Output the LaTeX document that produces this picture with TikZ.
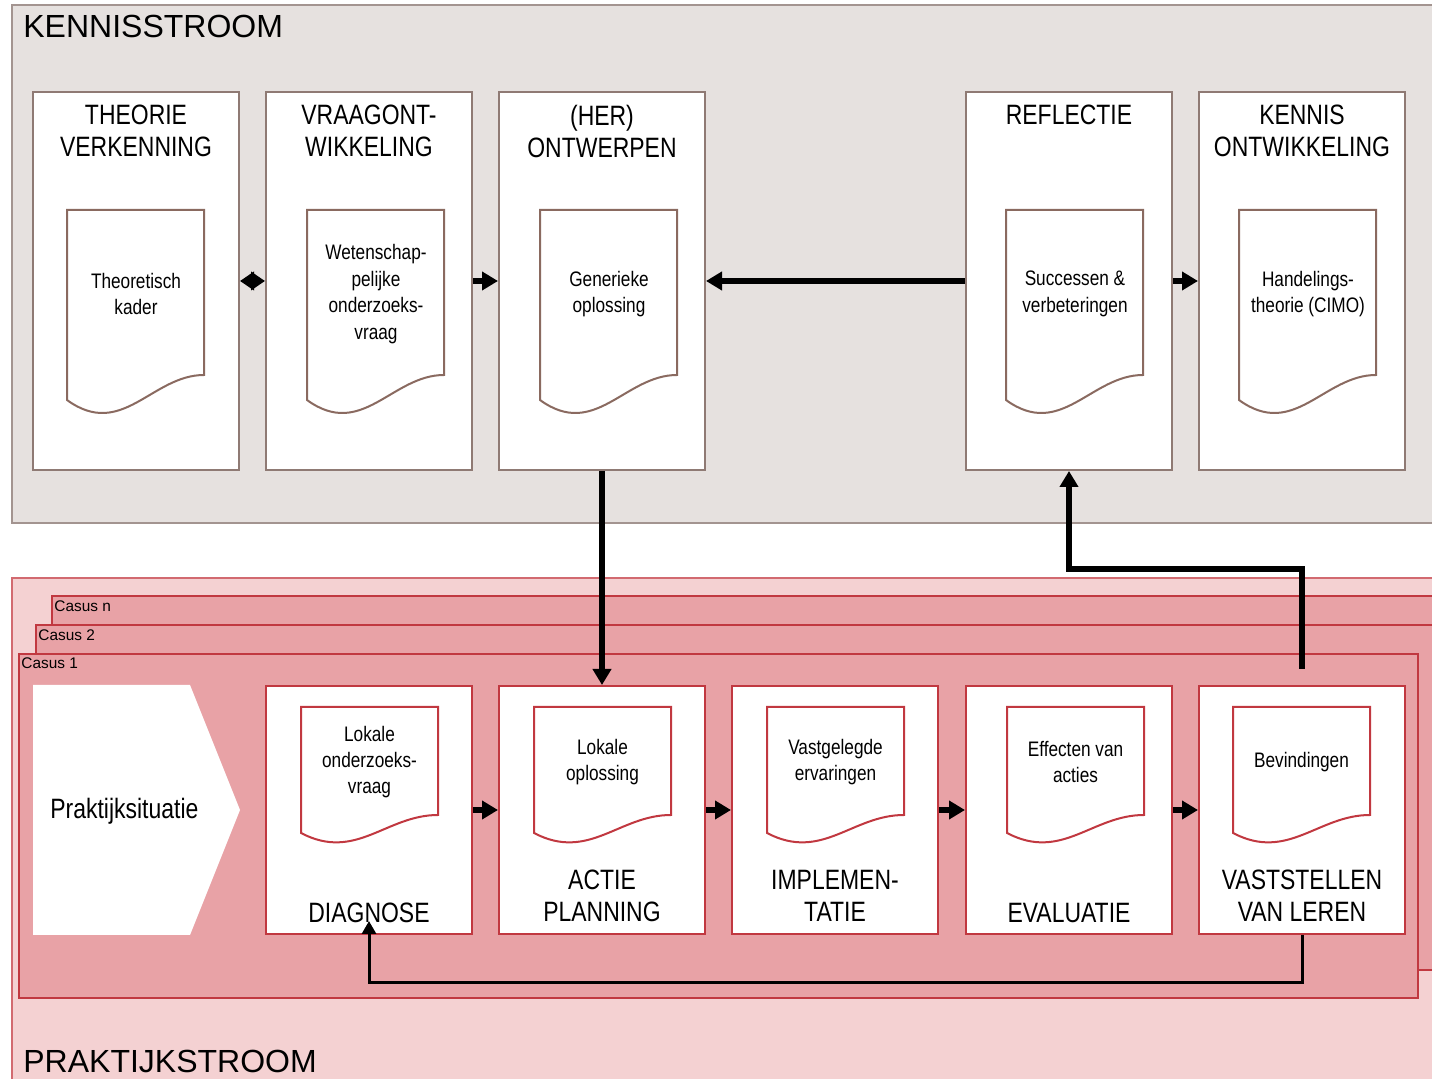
\documentclass[tikz,border=0pt]{standalone}
\usepackage{fontspec}
\setmainfont{Liberation Sans}
\newfontfamily\narrowfont[FakeStretch=0.82]{Liberation Sans}
\usetikzlibrary{arrows.meta}

\definecolor{kennisbg}{HTML}{E6E1DF}
\definecolor{kennisrand}{HTML}{A39490}
\definecolor{kboxrand}{HTML}{8F7A74}
\definecolor{kdocrand}{HTML}{8A6A60}
\definecolor{praktijkbg}{HTML}{F4D1D2}
\definecolor{praktijkrand}{HTML}{D26A70}
\definecolor{casusbg}{HTML}{E8A2A6}
\definecolor{casusrand}{HTML}{C13840}

% document met golvende onderkant: x, top, hoogte, verval, kleur
\newcommand{\docshape}[5]{%
\filldraw[fill=white,draw=#5,line width=1pt] (#1,{#2+#3}) -- (#1,#2) -- ({#1+137},#2)
  -- ({#1+137},{#2+#3-#4}) .. controls ({#1+85},{#2+#3-#4}) and ({#1+55},{#2+#3+1.6*#4}) .. (#1,{#2+#3}) -- cycle;}

\tikzset{
  kbox/.style={draw=kboxrand,fill=white,line width=1pt,inner sep=0pt,minimum width=103pt,minimum height=189pt},
  pbox/.style={draw=casusrand,fill=white,line width=1pt,inner sep=0pt,minimum width=103pt,minimum height=124pt},
  boxtitle/.style={align=center,inner sep=0pt,font=\narrowfont\fontsize{14pt}{16pt}\selectfont},
  doctext/.style={align=center,inner sep=0pt,font=\narrowfont\fontsize{10.5pt}{13.2pt}\selectfont},
  streamtitle/.style={anchor=base west,inner sep=0pt,font=\fontsize{16pt}{18pt}\selectfont},
  casuslabel/.style={anchor=west,inner sep=0pt,font=\fontsize{7.7pt}{9pt}\selectfont},
  flow/.style={line width=2.6pt,-{Triangle[length=8pt,width=9pt]}},
  loop/.style={line width=1.5pt,-{Triangle[length=6.5pt,width=7pt]}}
}

\begin{document}
\begin{tikzpicture}[x=0.5pt,y=-0.5pt]
\clip (0,0) rectangle (1432,1079);

% kennisstroom
\filldraw[fill=kennisbg,draw=kennisrand,line width=1pt] (12,5) rectangle (1450,523);
\node[streamtitle] (kennistitle) at (23,38) {KENNISSTROOM};

% praktijkstroom en casussen
\filldraw[fill=praktijkbg,draw=praktijkrand,line width=1pt] (12,578) rectangle (1450,1100);
\filldraw[fill=casusbg,draw=casusrand,line width=1pt] (52,596) rectangle (1450,970);
\filldraw[fill=casusbg,draw=casusrand,line width=1pt] (36,625) rectangle (1450,970);
\filldraw[fill=casusbg,draw=casusrand,line width=1pt] (19,654) rectangle (1418,998);
\node[casuslabel] (casusn) at (54,606) {Casus n};
\node[casuslabel] (casus2) at (38,635) {Casus 2};
\node[casuslabel] (casus1) at (21,663) {Casus 1};
\node[streamtitle] (praktijktitle) at (23,1073) {PRAKTIJKSTROOM};

\fill[white] (33,685) -- (190,685) -- (240,810) -- (190,935) -- (33,935) -- cycle;
\node[anchor=west,inner sep=0pt,font=\narrowfont\fontsize{14pt}{16pt}\selectfont] (praktijk) at (50,811) {Praktijksituatie};

% bovenste rij
\node[kbox] (theorie) at (136,281) {};
\node[kbox] (vraag) at (369,281) {};
\node[kbox] (ontwerpen) at (602,281) {};
\node[kbox] (reflectie) at (1069,281) {};
\node[kbox] (kennis) at (1302,281) {};

\node[boxtitle] (theorietitle) at (136,131) {THEORIE\\VERKENNING};
\node[boxtitle] (vraagtitle) at (369,131) {VRAAGONT-\\WIKKELING};
\node[boxtitle] (ontwerpentitle) at (602,131) {(HER)\\ONTWERPEN};
\node[boxtitle] (reflectietitle) at (1069,115) {REFLECTIE};
\node[boxtitle] (kennistitle2) at (1302,131) {KENNIS\\ONTWIKKELING};

\docshape{67}{210}{190}{25}{kdocrand}
\docshape{307}{210}{190}{25}{kdocrand}
\docshape{540}{210}{190}{25}{kdocrand}
\docshape{1006}{210}{190}{25}{kdocrand}
\docshape{1239}{210}{190}{25}{kdocrand}

\node[doctext] (kader) at (136,294) {Theoretisch\\kader};
\node[doctext] (onderzoeksvraag) at (376,294) {Wetenschap-\\pelijke\\onderzoeks-\\vraag};
\node[doctext] (generiek) at (609,294) {Generieke\\oplossing};
\node[doctext] (successen) at (1075,294) {Successen \&\\verbeteringen};
\node[doctext] (handeling) at (1308,294) {Handelings-\\theorie (CIMO)};

% onderste rij
\node[pbox] (diagnose) at (369,810) {};
\node[pbox] (actie) at (602,810) {};
\node[pbox] (implementatie) at (835,810) {};
\node[pbox] (evaluatie) at (1069,810) {};
\node[pbox] (vaststellen) at (1302,810) {};

\docshape{301}{707}{126}{18}{casusrand}
\docshape{534}{707}{126}{18}{casusrand}
\docshape{767}{707}{126}{18}{casusrand}
\docshape{1007}{707}{126}{18}{casusrand}
\docshape{1233}{707}{126}{18}{casusrand}

\node[doctext] (lokalevraag) at (369.5,762) {Lokale\\onderzoeks-\\vraag};
\node[doctext] (lokaleoplossing) at (602.5,762) {Lokale\\oplossing};
\node[doctext] (ervaringen) at (835.5,762) {Vastgelegde\\ervaringen};
\node[doctext] (effecten) at (1075.5,762) {Effecten van\\acties};
\node[doctext] (bevindingen) at (1301.5,762) {Bevindingen};

\node[boxtitle] (diagnosetitle) at (369,913) {DIAGNOSE};
\node[boxtitle] (actietitle) at (602,896) {ACTIE\\PLANNING};
\node[boxtitle] (implementatietitle) at (835,896) {IMPLEMEN-\\TATIE};
\node[boxtitle] (evaluatietitle) at (1069,913) {EVALUATIE};
\node[boxtitle] (vaststellentitle) at (1302,896) {VASTSTELLEN\\VAN LEREN};

% pijlen
\draw[line width=2.6pt,{Triangle[length=7pt,width=9pt]}-{Triangle[length=7pt,width=9pt]}] (theorie.east) -- (vraag.west);
\draw[flow] (vraag.east) -- (ontwerpen.west);
\draw[flow] (reflectie.west) -- (ontwerpen.east);
\draw[flow] (reflectie.east) -- (kennis.west);
\draw[flow] (ontwerpen.south) -- (actie.north);
\draw[flow] ([yshift=8pt]vaststellen.north) -- ++(0,-100) -| (reflectie.south);

\draw[flow] (diagnose.east) -- (actie.west);
\draw[flow] (actie.east) -- (implementatie.west);
\draw[flow] (implementatie.east) -- (evaluatie.west);
\draw[flow] (evaluatie.east) -- (vaststellen.west);
\draw[loop] (vaststellen.south) -- ++(0,48) -| ([yshift=7pt]diagnose.south);
\end{tikzpicture}
\end{document}
